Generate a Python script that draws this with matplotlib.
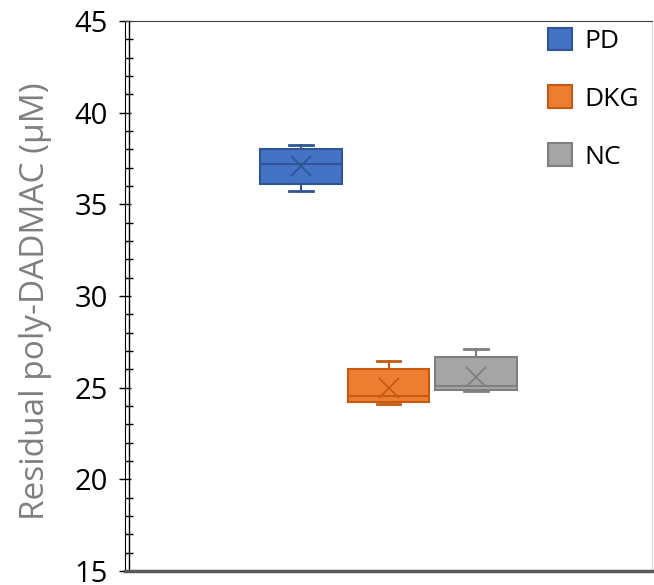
import matplotlib.pyplot as plt
from matplotlib.patches import Patch

plt.rcParams['font.family'] = ['Open Sans', 'DejaVu Sans']

# box stats (uM)
groups = ["PD", "DKG", "NC"]
q1 = [36.1, 24.2, 24.9]
med = [37.2, 24.55, 25.1]
q3 = [38.0, 26.0, 26.65]
whislo = [35.75, 24.1, 24.8]
whishi = [38.25, 26.45, 27.1]
means = [37.1, 25.0, 25.6]

faces = ["#4472C4", "#ED7D31", "#A5A5A5"]
edges = ["#2F5597", "#C55A11", "#7F7F7F"]
positions = [-1, 0, 1]

fig = plt.figure(figsize=(6.54, 5.85), dpi=100)
ax = fig.add_axes([125/654, 1 - 571/585, 527/654, 550/585])

for i in range(3):
    st = [dict(q1=q1[i], med=med[i], q3=q3[i], whislo=whislo[i],
               whishi=whishi[i], mean=means[i], fliers=[])]
    ax.bxp(st, positions=[positions[i]], widths=0.93, capwidths=0.27,
           patch_artist=True, showmeans=True, manage_ticks=False,
           boxprops=dict(facecolor=faces[i], edgecolor=edges[i], lw=1.5),
           medianprops=dict(color=edges[i], lw=1.5),
           whiskerprops=dict(color=edges[i], lw=1.5),
           capprops=dict(color=edges[i], lw=2),
           meanprops=dict(marker="x", markersize=14, markeredgecolor=edges[i],
                          markeredgewidth=1.3))

ax.set_xlim(-3, 3)
ax.set_ylim(15, 45)
ax.set_yticks(range(15, 46, 5))
ax.set_yticks(range(15, 46, 1), minor=True)
ax.set_xticks([])
ax.tick_params(axis="y", which="major", direction="inout", length=8.6,
               width=1, labelsize=21, pad=8)
ax.tick_params(axis="y", which="minor", direction="in", length=5.8, width=1)
ax.axvline(-3 + 0.04, color="black", lw=1)

ax.spines["left"].set_color("black")
ax.spines["top"].set_color("#404040")
ax.spines["right"].set_color("#D9D9D9")
ax.spines["bottom"].set_color("#595959")
ax.spines["bottom"].set_linewidth(2.5)

ax.set_ylabel("Residual poly-DADMAC (µM)", fontsize=24, color="#7F7F7F")
ax.yaxis.set_label_coords(-0.139, 0.491)

handles = [Patch(facecolor=faces[i], edgecolor=edges[i], lw=1.5) for i in range(3)]
ax.legend(handles, groups, loc="upper right", bbox_to_anchor=(1.0, 1.012),
          frameon=False, fontsize=19, handlelength=0.92, handleheight=0.92,
          labelspacing=1.2, handletextpad=0.45, borderaxespad=0.1)

fig.savefig("out.png", dpi=100)
